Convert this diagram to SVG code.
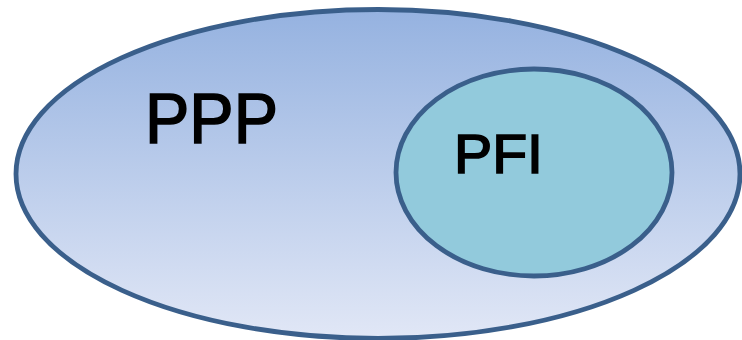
<svg xmlns="http://www.w3.org/2000/svg" width="742" height="340" viewBox="0 0 742 340">
  <defs>
    <linearGradient id="outerFill" x1="0" y1="0" x2="0" y2="1">
      <stop offset="0" stop-color="#95b2e0"/>
      <stop offset="1" stop-color="#e1e7f6"/>
    </linearGradient>
  </defs>
  <style>
    .shape { stroke: #3a5f8b; stroke-width: 4.8; }
    .label { font-family: "Liberation Sans", Arial, sans-serif; fill: #000000; stroke: #000000; stroke-width: 1.6; }
  </style>
  <g id="ppp">
    <ellipse class="shape" cx="378" cy="174" rx="362" ry="164.5" fill="url(#outerFill)"/>
    <text class="label" x="145" y="143" font-size="70" textLength="133" lengthAdjust="spacingAndGlyphs">PPP</text>
  </g>
  <g id="pfi">
    <ellipse class="shape" cx="534" cy="172.5" rx="138" ry="103.5" fill="#92cadc"/>
    <text class="label" x="454" y="172.5" font-size="55" textLength="89" lengthAdjust="spacingAndGlyphs">PFI</text>
  </g>
  <g id="connectors"></g>
</svg>
